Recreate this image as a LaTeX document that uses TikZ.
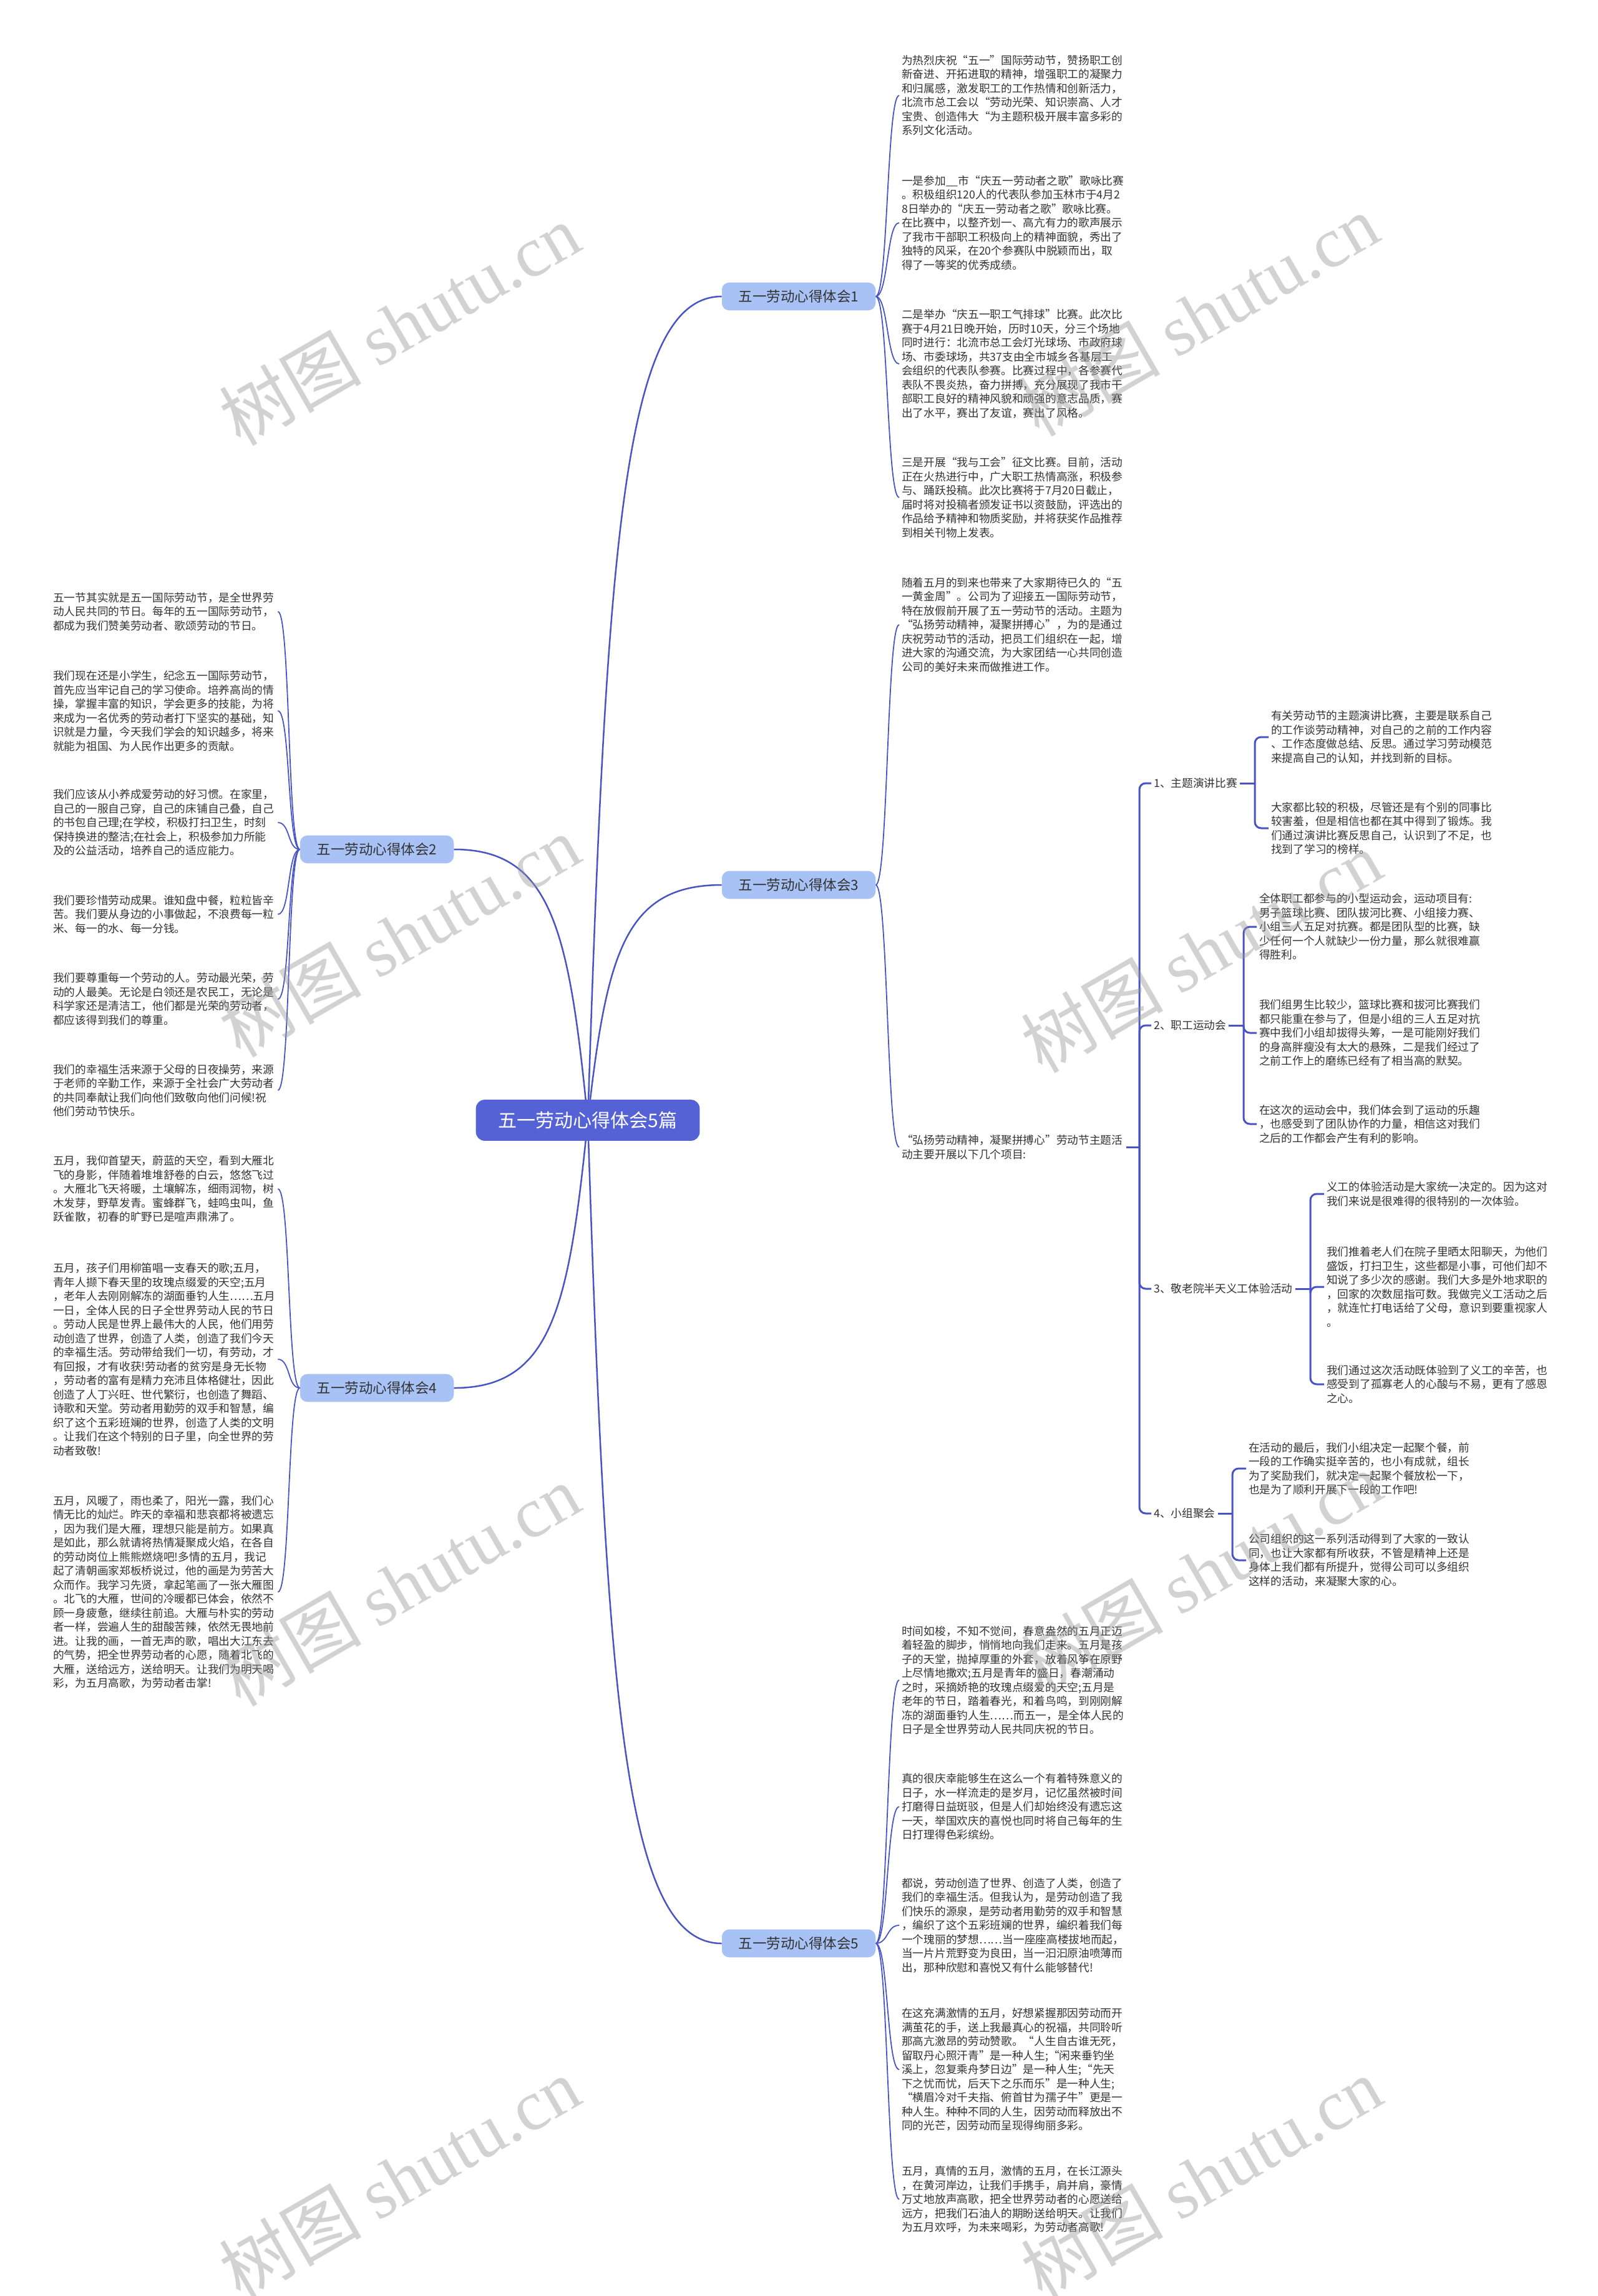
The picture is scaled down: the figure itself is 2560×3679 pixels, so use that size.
\documentclass[tikz,border=0pt]{standalone}
\usepackage{fontspec}
\setmainfont{Noto Sans CJK SC}
\newfontfamily\wmlatin{Liberation Serif}
\usetikzlibrary{backgrounds}
\definecolor{lineblue}{RGB}{72,84,196}
\definecolor{rootfill}{RGB}{84,98,214}
\definecolor{branchfill}{RGB}{168,194,245}
\definecolor{txt}{RGB}{51,51,51}
\definecolor{wmgray}{RGB}{150,150,150}
\tikzset{
  root/.style={fill=rootfill, text=white, rounded corners=14pt, inner xsep=36pt, inner ysep=19pt, font=\fontsize{30}{36}\selectfont},
  branch/.style={fill=branchfill, text=txt, rounded corners=12pt, inner xsep=27pt, inner ysep=12pt, font=\fontsize{22.5}{27}\selectfont},
  leaf/.style={text=txt, align=left, text width=356pt, inner xsep=4pt, inner ysep=4pt, anchor=west, font=\fontsize{17.7}{22.5}\selectfont},
  sublabel/.style={text=txt, inner xsep=4pt, inner ysep=4pt, anchor=west, font=\fontsize{17.7}{22.5}\selectfont},
  mainline/.style={draw=lineblue, line width=2.5pt},
  leafline/.style={draw=lineblue, line width=1.8pt},
  brk/.style={draw=lineblue, line width=3pt, rounded corners=10pt},
  wm/.style={text=wmgray, opacity=0.42, rotate=30, font=\fontsize{114}{120}\selectfont}
}
\begin{document}
\begin{tikzpicture}[x=1pt,y=-1pt]
\useasboundingbox (0,0) rectangle (2560,3679);

% root and branches
\node[root] (root) at (942,1795) {五一劳动心得体会5篇};
\node[branch] (b1) at (1280,475) {五一劳动心得体会1};
\node[branch] (b3) at (1280,1418) {五一劳动心得体会3};
\node[branch] (b5) at (1280,3114) {五一劳动心得体会5};
\node[branch] (b2) at (604,1361) {五一劳动心得体会2};
\node[branch] (b4) at (604,2224) {五一劳动心得体会4};

% section 1
\node[leaf] (p1a) at (1441,153) {为热烈庆祝“五一”国际劳动节，赞扬职工创\\新奋进、开拓进取的精神，增强职工的凝聚力\\和归属感，激发职工的工作热情和创新活力，\\北流市总工会以“劳动光荣、知识崇高、人才\\宝贵、创造伟大“为主题积极开展丰富多彩的\\系列文化活动。};
\node[leaf] (p1b) at (1441,357) {一是参加\_\_市“庆五一劳动者之歌”歌咏比赛\\。积极组织120人的代表队参加玉林市于4月2\\8日举办的“庆五一劳动者之歌”歌咏比赛。\\在比赛中，以整齐划一、高亢有力的歌声展示\\了我市干部职工积极向上的精神面貌，秀出了\\独特的风采，在20个参赛队中脱颖而出，取\\得了一等奖的优秀成绩。};
\node[leaf] (p1c) at (1441,583) {二是举办“庆五一职工气排球”比赛。此次比\\赛于4月21日晚开始，历时10天，分三个场地\\同时进行：北流市总工会灯光球场、市政府球\\场、市委球场，共37支由全市城乡各基层工\\会组织的代表队参赛。比赛过程中，各参赛代\\表队不畏炎热，奋力拼搏，充分展现了我市干\\部职工良好的精神风貌和顽强的意志品质，赛\\出了水平，赛出了友谊，赛出了风格。};
\node[leaf] (p1d) at (1441,797) {三是开展“我与工会”征文比赛。目前，活动\\正在火热进行中，广大职工热情高涨，积极参\\与、踊跃投稿。此次比赛将于7月20日截止，\\届时将对投稿者颁发证书以资鼓励，评选出的\\作品给予精神和物质奖励，并将获奖作品推荐\\到相关刊物上发表。};

% section 3
\node[leaf] (p3a) at (1441,1001) {随着五月的到来也带来了大家期待已久的“五\\一黄金周”。公司为了迎接五一国际劳动节，\\特在放假前开展了五一劳动节的活动。主题为\\“弘扬劳动精神，凝聚拼搏心”，为的是通过\\庆祝劳动节的活动，把员工们组织在一起，增\\进大家的沟通交流，为大家团结一心共同创造\\公司的美好未来而做推进工作。};
\node[leaf] (p3b) at (1441,1838) {“弘扬劳动精神，凝聚拼搏心”劳动节主题活\\动主要开展以下几个项目:};

\node[sublabel] (s1) at (1845,1255) {1、主题演讲比赛};
\node[sublabel] (s2) at (1845,1643) {2、职工运动会};
\node[sublabel] (s3) at (1845,2065) {3、敬老院半天义工体验活动};
\node[sublabel] (s4) at (1845,2425) {4、小组聚会};

\node[leaf] (s1a) at (2033,1181) {有关劳动节的主题演讲比赛，主要是联系自己\\的工作谈劳动精神，对自己的之前的工作内容\\、工作态度做总结、反思。通过学习劳动模范\\来提高自己的认知，并找到新的目标。};
\node[leaf] (s1b) at (2033,1327) {大家都比较的积极，尽管还是有个别的同事比\\较害羞，但是相信也都在其中得到了锻炼。我\\们通过演讲比赛反思自己，认识到了不足，也\\找到了学习的榜样。};
\node[leaf] (s2a) at (2014,1485) {全体职工都参与的小型运动会，运动项目有:\\男子篮球比赛、团队拔河比赛、小组接力赛、\\小组三人五足对抗赛。都是团队型的比赛，缺\\少任何一个人就缺少一份力量，那么就很难赢\\得胜利。};
\node[leaf] (s2b) at (2014,1655) {我们组男生比较少，篮球比赛和拔河比赛我们\\都只能重在参与了，但是小组的三人五足对抗\\赛中我们小组却拔得头筹，一是可能刚好我们\\的身高胖瘦没有太大的悬殊，二是我们经过了\\之前工作上的磨练已经有了相当高的默契。};
\node[leaf] (s2c) at (2014,1801) {在这次的运动会中，我们体会到了运动的乐趣\\，也感受到了团队协作的力量，相信这对我们\\之后的工作都会产生有利的影响。};
\node[leaf] (s3a) at (2122,1913) {义工的体验活动是大家统一决定的。因为这对\\我们来说是很难得的很特别的一次体验。};
\node[leaf] (s3b) at (2122,2062) {我们推着老人们在院子里晒太阳聊天，为他们\\盛饭，打扫卫生，这些都是小事，可他们却不\\知说了多少次的感谢。我们大多是外地求职的\\，回家的次数屈指可数。我做完义工活动之后\\，就连忙打电话给了父母，意识到要重视家人\\。};
\node[leaf] (s3c) at (2122,2218) {我们通过这次活动既体验到了义工的辛苦，也\\感受到了孤寡老人的心酸与不易，更有了感恩\\之心。};
\node[leaf] (s4a) at (1997,2353) {在活动的最后，我们小组决定一起聚个餐，前\\一段的工作确实挺辛苦的，也小有成就，组长\\为了奖励我们，就决定一起聚个餐放松一下，\\也是为了顺利开展下一段的工作吧!};
\node[leaf] (s4b) at (1997,2500) {公司组织的这一系列活动得到了大家的一致认\\同，也让大家都有所收获，不管是精神上还是\\身体上我们都有所提升，觉得公司可以多组织\\这样的活动，来凝聚大家的心。};

% section 5
\node[leaf] (r5a) at (1441,2692) {时间如梭，不知不觉间，春意盎然的五月正迈\\着轻盈的脚步，悄悄地向我们走来。五月是孩\\子的天堂，抛掉厚重的外套，放着风筝在原野\\上尽情地撒欢;五月是青年的盛日，春潮涌动\\之时，采摘娇艳的玫瑰点缀爱的天空;五月是\\老年的节日，踏着春光，和着鸟鸣，到刚刚解\\冻的湖面垂钓人生……而五一，是全体人民的\\日子是全世界劳动人民共同庆祝的节日。};
\node[leaf] (r5b) at (1441,2895) {真的很庆幸能够生在这么一个有着特殊意义的\\日子，水一样流走的是岁月，记忆虽然被时间\\打磨得日益斑驳，但是人们却始终没有遗忘这\\一天，举国欢庆的喜悦也同时将自己每年的生\\日打理得色彩缤纷。};
\node[leaf] (r5c) at (1441,3085) {都说，劳动创造了世界、创造了人类，创造了\\我们的幸福生活。但我认为，是劳动创造了我\\们快乐的源泉，是劳动者用勤劳的双手和智慧\\，编织了这个五彩班斓的世界，编织着我们每\\一个瑰丽的梦想……当一座座高楼拔地而起，\\当一片片荒野变为良田，当一汩汩原油喷薄而\\出，那种欣慰和喜悦又有什么能够替代!};
\node[leaf] (r5d) at (1441,3316) {在这充满激情的五月，好想紧握那因劳动而开\\满茧花的手，送上我最真心的祝福，共同聆听\\那高亢激昂的劳动赞歌。“人生自古谁无死，\\留取丹心照汗青”是一种人生;“闲来垂钓坐\\溪上，忽复乘舟梦日边”是一种人生;“先天\\下之忧而忧，后天下之乐而乐”是一种人生;\\“横眉冷对千夫指、俯首甘为孺子牛”更是一\\种人生。种种不同的人生，因劳动而释放出不\\同的光芒，因劳动而呈现得绚丽多彩。};
\node[leaf] (r5e) at (1441,3524) {五月，真情的五月，激情的五月，在长江源头\\，在黄河岸边，让我们手携手，肩并肩，豪情\\万丈地放声高歌，把全世界劳动者的心愿送给\\远方，把我们石油人的期盼送给明天。让我们\\为五月欢呼，为未来喝彩，为劳动者高歌!};

% section 2 (left)
\node[leaf] (l2a) at (81,980) {五一节其实就是五一国际劳动节，是全世界劳\\动人民共同的节日。每年的五一国际劳动节，\\都成为我们赞美劳动者、歌颂劳动的节日。};
\node[leaf] (l2b) at (81,1139) {我们现在还是小学生，纪念五一国际劳动节，\\首先应当牢记自己的学习使命。培养高尚的情\\操，掌握丰富的知识，学会更多的技能，为将\\来成为一名优秀的劳动者打下坚实的基础，知\\识就是力量，今天我们学会的知识越多，将来\\就能为祖国、为人民作出更多的贡献。};
\node[leaf] (l2c) at (81,1318) {我们应该从小养成爱劳动的好习惯。在家里，\\自己的一服自己穿，自己的床铺自己叠，自己\\的书包自己理;在学校，积极打扫卫生，时刻\\保持换进的整洁;在社会上，积极参加力所能\\及的公益活动，培养自己的适应能力。};
\node[leaf] (l2d) at (81,1465) {我们要珍惜劳动成果。谁知盘中餐，粒粒皆辛\\苦。我们要从身边的小事做起，不浪费每一粒\\米、每一的水、每一分钱。};
\node[leaf] (l2e) at (81,1601) {我们要尊重每一个劳动的人。劳动最光荣，劳\\动的人最美。无论是白领还是农民工，无论是\\科学家还是清洁工，他们都是光荣的劳动者，\\都应该得到我们的尊重。};
\node[leaf] (l2f) at (81,1747) {我们的幸福生活来源于父母的日夜操劳，来源\\于老师的辛勤工作，来源于全社会广大劳动者\\的共同奉献让我们向他们致敬向他们问候!祝\\他们劳动节快乐。};

% section 4 (left)
\node[leaf] (l4a) at (81,1905) {五月，我仰首望天，蔚蓝的天空，看到大雁北\\飞的身影，伴随着堆堆舒卷的白云，悠悠飞过\\。大雁北飞天将暖，土壤解冻，细雨润物，树\\木发芽，野草发青。蜜蜂群飞，蛙鸣虫叫，鱼\\跃雀散，初春的旷野已是喧声鼎沸了。};
\node[leaf] (l4b) at (81,2178) {五月，孩子们用柳笛唱一支春天的歌;五月，\\青年人撷下春天里的玫瑰点缀爱的天空;五月\\，老年人去刚刚解冻的湖面垂钓人生……五月\\一日，全体人民的日子全世界劳动人民的节日\\。劳动人民是世界上最伟大的人民，他们用劳\\动创造了世界，创造了人类，创造了我们今天\\的幸福生活。劳动带给我们一切，有劳动，才\\有回报，才有收获!劳动者的贫穷是身无长物\\，劳动者的富有是精力充沛且体格健壮，因此\\创造了人丁兴旺、世代繁衍，也创造了舞蹈、\\诗歌和天堂。劳动者用勤劳的双手和智慧，编\\织了这个五彩班斓的世界，创造了人类的文明\\。让我们在这个特别的日子里，向全世界的劳\\动者致敬!};
\node[leaf] (l4c) at (81,2551) {五月，风暖了，雨也柔了，阳光一露，我们心\\情无比的灿烂。昨天的幸福和悲哀都将被遗忘\\，因为我们是大雁，理想只能是前方。如果真\\是如此，那么就请将热情凝聚成火焰，在各自\\的劳动岗位上熊熊燃烧吧!多情的五月，我记\\起了清朝画家郑板桥说过，他的画是为劳苦大\\众而作。我学习先贤，拿起笔画了一张大雁图\\。北飞的大雁，世间的冷暖都已体会，依然不\\顾一身疲惫，继续往前追。大雁与朴实的劳动\\者一样，尝遍人生的甜酸苦辣，依然无畏地前\\进。让我的画，一首无声的歌，唱出大江东去\\的气势，把全世界劳动者的心愿，随着北飞的\\大雁，送给远方，送给明天。让我们为明天喝\\彩，为五月高歌，为劳动者击掌!};

\begin{scope}[on background layer]
\fill[white] (0,0) rectangle (2560,3679);
% main curves
\draw[mainline] (root.center) .. controls +(30,-924) and +(-157,0) .. (b1.west);
\draw[mainline] (root.center) .. controls +(30,-264) and +(-157,0) .. (b3.west);
\draw[mainline] (root.center) .. controls +(30,923) and +(-157,0) .. (b5.west);
\draw[mainline] (root.center) .. controls +(-30,-304) and +(157,0) .. (b2.east);
\draw[mainline] (root.center) .. controls +(-30,300) and +(157,0) .. (b4.east);
% right leaf curves
\foreach \c in {p1a,p1b,p1c,p1d}
  \draw[leafline] (b1.east) .. controls +(20,0) and +(-20,0) .. (\c.west);
\foreach \c in {p3a,p3b}
  \draw[leafline] (b3.east) .. controls +(20,0) and +(-20,0) .. (\c.west);
\foreach \c in {r5a,r5b,r5c,r5d,r5e}
  \draw[leafline] (b5.east) .. controls +(20,0) and +(-20,0) .. (\c.west);
% left leaf curves
\foreach \c in {l2a,l2b,l2c,l2d,l2e,l2f}
  \draw[leafline] (b2.west) .. controls +(-20,0) and +(20,0) .. (\c.east);
\foreach \c in {l4a,l4b,l4c}
  \draw[leafline] (b4.west) .. controls +(-20,0) and +(20,0) .. (\c.east);
% brackets
\draw[brk] (p3b.east) -- ([xshift=-19pt]s1.west |- p3b.east);
\foreach \c in {s1,s2,s3,s4}
  \draw[brk] ([xshift=-19pt]s1.west |- p3b.east) |- (\c.west);
\draw[brk] (s1.east) -- ([xshift=-22pt]s1a.west |- s1.east);
\foreach \c in {s1a,s1b}
  \draw[brk] ([xshift=-22pt]s1a.west |- s1.east) |- (\c.west);
\draw[brk] (s2.east) -- ([xshift=-21pt]s2a.west |- s2.east);
\foreach \c in {s2a,s2b,s2c}
  \draw[brk] ([xshift=-21pt]s2a.west |- s2.east) |- (\c.west);
\draw[brk] (s3.east) -- ([xshift=-22pt]s3a.west |- s3.east);
\foreach \c in {s3a,s3b,s3c}
  \draw[brk] ([xshift=-22pt]s3a.west |- s3.east) |- (\c.west);
\draw[brk] (s4.east) -- ([xshift=-22pt]s4a.west |- s4.east);
\foreach \c in {s4a,s4b}
  \draw[brk] ([xshift=-22pt]s4a.west |- s4.east) |- (\c.west);
\end{scope}

% watermarks
\foreach \wx/\wy [count=\i] in {640/520,1920/505,640/1500,1925/1525,640/2540,1925/2520,640/3490,1925/3490}
  \node[wm] (wm\i) at (\wx,\wy) {树图 {\wmlatin shutu.cn}};
\end{tikzpicture}
\end{document}
